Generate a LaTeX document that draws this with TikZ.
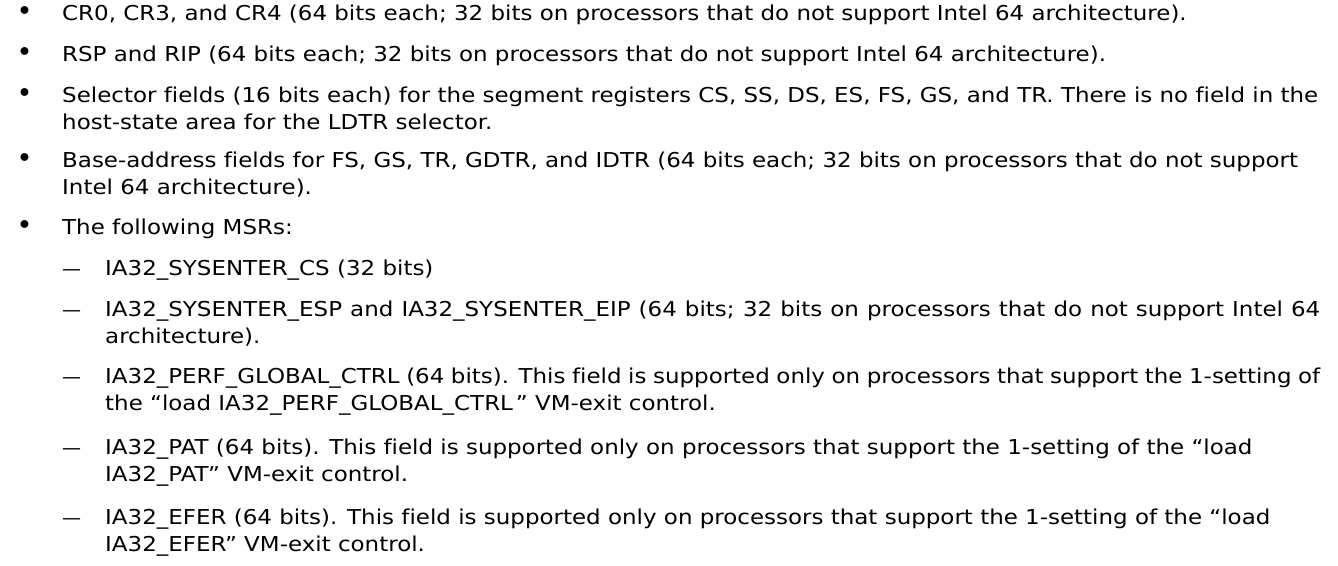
\documentclass[tikz,border=0pt]{standalone}
\usepackage{fontspec}
\setmainfont{DejaVu Sans}[FakeStretch=1.12,Ligatures=NoCommon]
\newfontfamily\markfont{DejaVu Sans}
\begin{document}
\begin{tikzpicture}[x=1bp,y=-1bp,
    txt/.style={anchor=base west,inner sep=0pt,font=\fontsize{20.5bp}{24bp}\selectfont},
    dashmark/.style={anchor=base west,inner sep=0pt,font=\markfont\fontsize{19bp}{23bp}\selectfont},
    dotmark/.style={anchor=base,inner sep=0pt,font=\markfont\fontsize{27bp}{30bp}\selectfont}]
   \useasboundingbox (0,0) rectangle (1338,566);
   % bullets
   \node[dotmark] (b1) at (24.5,21) {•};
   \node[dotmark] (b2) at (24.5,62) {•};
   \node[dotmark] (b3) at (24.5,103) {•};
   \node[dotmark] (b4) at (24.5,168) {•};
   \node[dotmark] (b5) at (24.5,234) {•};
   % dashes
   \node[dashmark] (d1) at (62,275) {—};
   \node[dashmark] (d2) at (62,316) {—};
   \node[dashmark] (d3) at (62,383) {—};
   \node[dashmark] (d4) at (62,454) {—};
   \node[dashmark] (d5) at (62,524) {—};
   % text
   \node[txt] (t1) at (62,21) {CR0, CR3, and CR4 (64 bits each; 32 bits on processors that do not support Intel 64 architecture).};
   \node[txt] (t2) at (62,62) {RSP and RIP (64 bits each; 32 bits on processors that do not support Intel 64 architecture).};
   \node[txt] (t3) at (62,103) {\makebox[1256bp][s]{Selector fields (16 bits each) for the segment registers CS, SS, DS, ES, FS, GS, and TR. There is no field in the}};
   \node[txt] (t3b) at (62,130) {host-state area for the LDTR selector.};
   \node[txt] (t4) at (62,168) {Base-address fields for FS, GS, TR, GDTR, and IDTR (64 bits each; 32 bits on processors that do not support};
   \node[txt] (t4b) at (62,195) {Intel 64 architecture).};
   \node[txt] (t5) at (62,234) {The following MSRs:};
   \node[txt] (s1) at (105,275) {IA32\_SYSENTER\_CS (32 bits)};
   \node[txt] (s2) at (105,316) {\makebox[1215bp][s]{IA32\_SYSENTER\_ESP and IA32\_SYSENTER\_EIP (64 bits; 32 bits on processors that do not support Intel 64}};
   \node[txt] (s2b) at (105,343) {architecture).};
   \node[txt] (s3) at (105,383) {\makebox[1215bp][s]{IA32\_PERF\_GLOBAL\_CTRL (64 bits). This field is supported only on processors that support the 1-setting of}};
   \node[txt] (s3b) at (105,410) {the “load IA32\_PERF\_GLOBAL\_CTRL\kern3bp” VM-exit control.};
   \node[txt] (s4) at (105,454) {IA32\_PAT (64 bits). This field is supported only on processors that support the 1-setting of the “load};
   \node[txt] (s4b) at (105,481) {IA32\_PAT” VM-exit control.};
   \node[txt] (s5) at (105,524) {IA32\_EFER (64 bits). This field is supported only on processors that support the 1-setting of the “load};
   \node[txt] (s5b) at (105,551) {IA32\_EFER” VM-exit control.};
\end{tikzpicture}
\end{document}
